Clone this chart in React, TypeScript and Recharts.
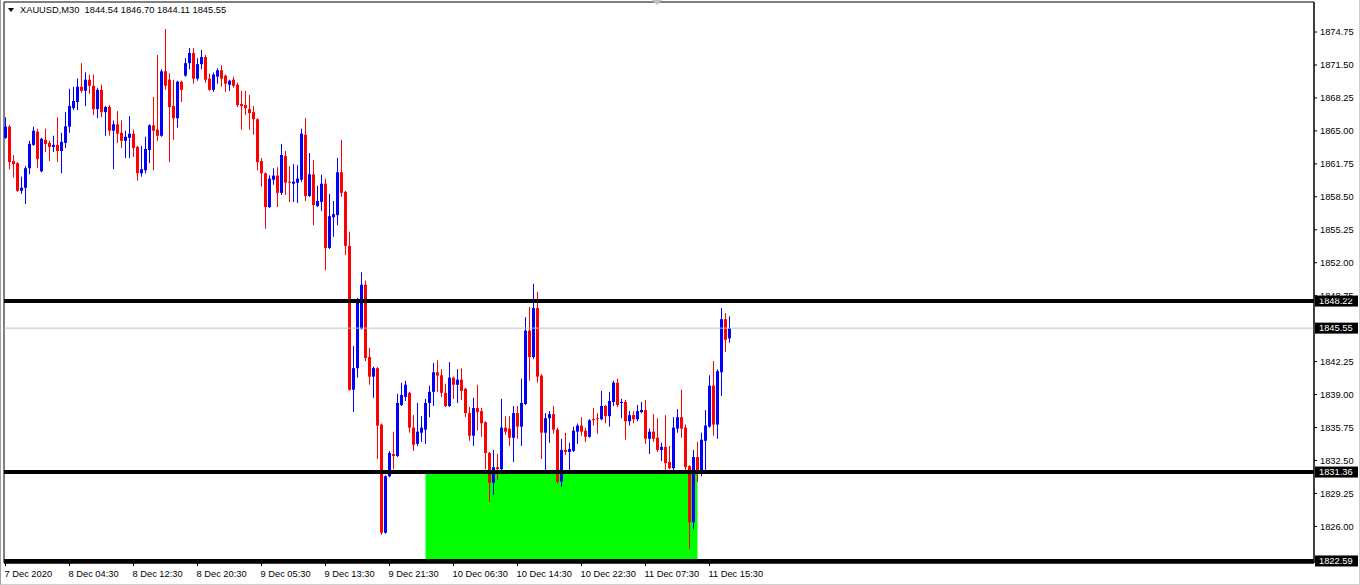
import React from "react";
import { ComposedChart, Bar, XAxis, YAxis, ReferenceLine, ReferenceArea } from "recharts";

// XAUUSD M30 candles (oldest first)
const opens = [
  1864.32, 1865.42, 1862.02, 1861.82, 1859.09, 1859.39, 1861.32, 1863.62, 1864.92, 1861.02,
  1864.12, 1863.82, 1863.42, 1863.62, 1863.02, 1863.82, 1865.42, 1867.25, 1867.85, 1869.35,
  1868.95, 1870.05, 1869.45, 1867.15, 1869.05, 1866.85, 1867.35, 1865.02, 1865.65, 1864.82,
  1864.02, 1864.32, 1864.72, 1863.42, 1860.82, 1861.12, 1863.12, 1865.55, 1865.12, 1864.52,
  1870.88, 1870.05, 1867.45, 1866.25, 1869.85, 1870.45, 1871.68, 1872.68, 1870.15, 1871.58,
  1872.28, 1870.15, 1869.05, 1870.35, 1870.98, 1870.45, 1869.55, 1870.05, 1869.55, 1867.65,
  1867.55, 1867.15, 1866.85, 1866.15, 1862.02, 1860.82, 1857.49, 1860.19, 1860.59, 1858.89,
  1862.52, 1859.99, 1859.79, 1859.89, 1860.19, 1864.62, 1858.59, 1860.72, 1857.59, 1857.99,
  1859.79, 1853.46, 1856.49, 1856.69, 1860.92, 1858.99, 1853.66, 1839.47, 1841.6, 1845.5,
  1849.83, 1842.7, 1840.77, 1841.6, 1836.04, 1825.38, 1830.94, 1833.14, 1832.94, 1837.97,
  1838.77, 1839.17, 1835.74, 1834.14, 1835.24, 1835.54, 1838.17, 1839.27, 1841.2, 1840.9,
  1839.17, 1837.87, 1840.67, 1839.97, 1840.47, 1839.57, 1837.17, 1834.94, 1837.67, 1837.37,
  1836.27, 1833.24, 1830.31, 1831.84, 1831.64, 1835.74, 1835.64, 1834.74, 1837.17, 1835.84,
  1838.07, 1845.3, 1842.7, 1847.53, 1840.87, 1835.24, 1836.67, 1837.07, 1835.54, 1830.41,
  1833.54, 1833.34, 1833.44, 1835.34, 1835.94, 1835.44, 1834.84, 1836.57, 1836.67, 1836.57,
  1837.87, 1836.87, 1838.27, 1840.17, 1838.17, 1838.27, 1836.37, 1836.97, 1836.57, 1837.27,
  1837.47, 1834.64, 1835.34, 1834.74, 1833.54, 1833.84, 1832.34, 1831.74, 1835.64, 1836.77,
  1835.74, 1831.94, 1826.41, 1832.84, 1831.34, 1834.44, 1835.84, 1839.87, 1836.04, 1841.2,
  1846.43, 1844.54,
];
const highs = [
  1866.35, 1865.6, 1862.62, 1861.92, 1860.49, 1861.52, 1864.02, 1865.42, 1865.22, 1864.32,
  1865.22, 1864.02, 1864.52, 1866.35, 1864.82, 1866.85, 1869.15, 1869.35, 1870.18, 1871.68,
  1870.78, 1870.55, 1870.55, 1869.25, 1869.55, 1867.45, 1867.55, 1866.02, 1866.95, 1866.05,
  1865.02, 1866.45, 1865.12, 1863.52, 1863.52, 1864.42, 1865.65, 1868.35, 1872.48, 1871.08,
  1875.05, 1870.68, 1870.05, 1869.95, 1869.95, 1872.18, 1873.18, 1873.18, 1872.18, 1872.98,
  1872.48, 1870.65, 1870.75, 1871.18, 1871.48, 1870.55, 1870.05, 1870.35, 1869.75, 1868.95,
  1868.95, 1868.55, 1867.45, 1866.25, 1862.32, 1860.92, 1860.62, 1861.32, 1861.42, 1863.72,
  1863.02, 1861.52, 1861.72, 1861.62, 1865.22, 1866.25, 1862.82, 1862.12, 1859.59, 1860.69,
  1860.29, 1858.79, 1858.09, 1862.32, 1864.12, 1859.09, 1855.06, 1843.8, 1848.53, 1851.06,
  1850.23, 1843.6, 1841.75, 1841.7, 1836.14, 1831.04, 1833.44, 1835.34, 1839.07, 1840.17,
  1840.37, 1839.27, 1836.97, 1838.17, 1836.87, 1838.57, 1839.87, 1842.1, 1842.4, 1841.5,
  1840.07, 1842.2, 1840.77, 1841.5, 1841.6, 1839.67, 1837.77, 1838.67, 1839.97, 1837.67,
  1836.37, 1833.34, 1833.54, 1833.14, 1838.57, 1836.87, 1836.87, 1837.87, 1837.87, 1840.57,
  1846.63, 1847.63, 1849.93, 1849.13, 1841.0, 1837.17, 1837.37, 1837.87, 1835.74, 1834.64,
  1835.24, 1834.24, 1835.84, 1836.14, 1836.77, 1835.74, 1836.57, 1837.67, 1837.17, 1839.37,
  1837.97, 1839.27, 1840.37, 1840.57, 1838.57, 1838.47, 1837.37, 1837.37, 1837.97, 1838.27,
  1838.47, 1835.64, 1837.07, 1836.67, 1834.24, 1836.97, 1833.94, 1836.77, 1837.57, 1839.47,
  1836.04, 1832.04, 1833.54, 1834.34, 1835.24, 1837.47, 1840.9, 1842.3, 1841.5, 1847.53,
  1847.03, 1846.7,
];
const lows = [
  1864.22, 1861.22, 1860.39, 1858.99, 1858.79, 1857.79, 1860.72, 1863.52, 1861.32, 1860.92,
  1862.92, 1862.02, 1862.92, 1861.92, 1860.82, 1863.32, 1864.82, 1867.05, 1867.05, 1868.75,
  1867.45, 1868.65, 1866.55, 1866.25, 1866.35, 1864.52, 1864.52, 1861.22, 1863.82, 1863.32,
  1862.32, 1862.32, 1862.42, 1860.09, 1860.49, 1860.82, 1861.82, 1861.12, 1864.02, 1864.42,
  1869.05, 1861.92, 1864.12, 1865.32, 1867.85, 1870.35, 1871.08, 1869.65, 1869.95, 1871.08,
  1869.75, 1868.95, 1868.85, 1869.65, 1869.35, 1868.85, 1868.95, 1869.25, 1867.35, 1865.12,
  1866.55, 1865.12, 1864.62, 1861.12, 1859.49, 1855.36, 1857.39, 1859.69, 1857.49, 1858.69,
  1858.69, 1857.99, 1857.99, 1857.89, 1859.99, 1858.09, 1858.49, 1855.69, 1857.49, 1857.09,
  1851.26, 1853.36, 1854.56, 1855.69, 1858.49, 1852.76, 1839.37, 1837.27, 1840.67, 1845.4,
  1842.3, 1839.97, 1838.67, 1832.64, 1825.18, 1825.28, 1830.84, 1831.64, 1832.84, 1837.87,
  1838.37, 1835.24, 1833.44, 1833.94, 1834.34, 1834.14, 1836.77, 1837.87, 1839.27, 1838.77,
  1837.77, 1837.77, 1838.57, 1838.17, 1838.47, 1836.77, 1834.44, 1833.94, 1835.44, 1834.84,
  1831.64, 1828.41, 1829.11, 1830.61, 1831.54, 1835.04, 1833.94, 1832.34, 1834.64, 1833.94,
  1837.97, 1840.37, 1842.5, 1840.17, 1832.64, 1831.44, 1834.24, 1835.14, 1830.21, 1829.91,
  1833.04, 1831.54, 1833.34, 1834.14, 1834.94, 1834.34, 1834.74, 1835.94, 1835.14, 1836.47,
  1836.17, 1835.84, 1837.87, 1837.77, 1836.67, 1834.54, 1835.94, 1836.17, 1836.37, 1837.17,
  1834.14, 1833.14, 1834.34, 1833.34, 1832.44, 1831.34, 1831.64, 1831.34, 1835.24, 1834.74,
  1831.34, 1823.78, 1825.71, 1830.41, 1830.94, 1831.24, 1835.74, 1834.94, 1834.64, 1838.87,
  1843.2, 1844.11,
];
const closes = [
  1865.42, 1861.92, 1861.72, 1859.09, 1859.39, 1861.32, 1863.72, 1865.02, 1862.22, 1864.22,
  1863.72, 1863.42, 1863.62, 1863.02, 1863.92, 1865.45, 1867.45, 1867.95, 1869.35, 1868.95,
  1870.05, 1869.45, 1867.15, 1869.05, 1866.85, 1867.35, 1865.02, 1865.65, 1864.72, 1864.02,
  1864.42, 1864.72, 1863.32, 1860.82, 1861.22, 1863.22, 1865.55, 1865.02, 1864.52, 1870.88,
  1869.45, 1867.35, 1866.25, 1869.85, 1869.05, 1871.68, 1872.68, 1870.15, 1871.58, 1872.28,
  1870.05, 1869.05, 1870.55, 1870.98, 1870.15, 1869.65, 1869.95, 1869.45, 1867.55, 1867.45,
  1867.25, 1866.75, 1866.15, 1861.92, 1860.82, 1857.49, 1860.29, 1860.59, 1858.89, 1862.62,
  1859.89, 1859.89, 1859.99, 1860.29, 1864.72, 1858.59, 1860.72, 1857.69, 1858.09, 1859.79,
  1853.46, 1856.59, 1856.79, 1860.92, 1858.89, 1853.66, 1839.47, 1841.6, 1848.03, 1849.83,
  1842.6, 1840.77, 1841.6, 1835.94, 1825.38, 1830.94, 1833.24, 1832.94, 1838.17, 1838.97,
  1839.97, 1835.74, 1834.04, 1835.34, 1835.74, 1838.17, 1839.27, 1841.2, 1840.87, 1839.17,
  1837.87, 1840.67, 1839.97, 1840.47, 1839.37, 1837.17, 1834.94, 1837.67, 1837.27, 1836.17,
  1833.24, 1830.31, 1831.84, 1831.64, 1835.74, 1835.34, 1834.74, 1837.17, 1835.84, 1838.17,
  1845.3, 1842.7, 1847.53, 1840.77, 1835.24, 1836.67, 1837.07, 1835.54, 1830.41, 1833.54,
  1833.34, 1833.64, 1835.44, 1835.94, 1835.34, 1834.84, 1836.47, 1836.47, 1836.57, 1837.87,
  1836.87, 1838.37, 1840.17, 1837.97, 1838.27, 1836.37, 1836.97, 1836.57, 1837.37, 1837.47,
  1834.64, 1835.34, 1834.64, 1833.54, 1833.84, 1832.24, 1831.74, 1835.74, 1836.77, 1835.64,
  1831.84, 1826.41, 1832.84, 1831.34, 1834.54, 1835.94, 1839.87, 1836.04, 1841.3, 1846.43,
  1844.4, 1845.55,
];

const timeLabels = [
  "7 Dec 2020", "8 Dec 04:30", "8 Dec 12:30", "8 Dec 20:30", "9 Dec 05:30", "9 Dec 13:30",
  "9 Dec 21:30", "10 Dec 06:30", "10 Dec 14:30", "10 Dec 22:30", "11 Dec 07:30", "11 Dec 15:30",
];
const timeTickBars = [0, 16, 32, 48, 64, 80, 96, 112, 128, 144, 160, 176];
const priceTicks = [
  1826.0, 1829.25, 1832.5, 1835.75, 1839.0, 1842.25, 1848.75, 1852.0, 1855.25, 1858.5,
  1861.75, 1865.0, 1868.25, 1871.5, 1874.75,
];

const resistance = 1848.22;
const support = 1831.36;
const floorLevel = 1822.59;
const bid = 1845.55;
const zoneFrom = 105;
const zoneTo = 173;

const xDomain = [-0.375, 327.125];
const yDomain = [1822.39, 1877.71];
const FONT = "'Liberation Sans', Arial, sans-serif";

const data = opens.map((o, i) => ({
  i,
  open: o,
  high: highs[i],
  low: lows[i],
  close: closes[i],
  range: [lows[i], highs[i]],
}));

function Candle(props: any) {
  const { x, y, width, height, payload } = props;
  if (x == null || y == null) return null;
  const { open, close, high, low } = payload;
  const top = Math.min(y, y + height);
  const h = Math.abs(height);
  const cx = Math.floor(x + width / 2) + 0.5;
  const k = high > low ? h / (high - low) : 0;
  const py = (p: number) => top + (high - p) * k;
  const color = close >= open ? "#0000ff" : "#ff0000";
  const bTop = py(Math.max(open, close));
  const bBot = py(Math.min(open, close));
  return (
    <g>
      <rect x={cx - 0.5} y={top} width={1} height={Math.max(h, 1)} fill={color} />
      <rect x={cx - 1.5} y={bTop} width={3} height={Math.max(bBot - bTop, 1)} fill={color} />
    </g>
  );
}

function PriceTag(props: any) {
  const vb = props.viewBox;
  if (!vb) return null;
  const left = vb.x + vb.width + 1;
  return (
    <g>
      <rect x={left} y={vb.y - 5.5} width={43} height={11} fill="#000" />
      <text x={left + 4} y={vb.y + 3.3} fill="#fff" fontSize={9.3} fontFamily={FONT}>
        {props.text}
      </text>
    </g>
  );
}

function TimeTick(props: any) {
  const { x, y, payload } = props;
  const idx = timeTickBars.indexOf(payload.value);
  return (
    <text x={x - 1} y={y + 8.5} fontSize={9.3} fontFamily={FONT} fill="#000" textAnchor="start">
      {timeLabels[idx]}
    </text>
  );
}

export default function App() {
  return (
    <div style={{ position: "absolute", left: 0, top: 0, width: 1360, height: 585, background: "#fff", overflow: "hidden" }}>
      <ComposedChart width={1360} height={585} data={data} margin={{ top: 2, right: 0, left: 4, bottom: 0 }}>
        <ReferenceArea x1={zoneFrom} x2={zoneTo} y1={floorLevel} y2={support} fill="#00ff00" fillOpacity={1} stroke="none" />
        <ReferenceLine y={bid} stroke="#c0c0c0" strokeWidth={1} label={<PriceTag text={bid.toFixed(2)} />} />
        <XAxis
          type="number"
          dataKey="i"
          domain={xDomain}
          allowDataOverflow
          ticks={timeTickBars}
          interval={0}
          height={22}
          tickSize={3}
          tickMargin={2}
          tick={<TimeTick />}
          axisLine={{ stroke: "#000" }}
          tickLine={{ stroke: "#000" }}
        />
        <YAxis
          type="number"
          orientation="right"
          domain={yDomain}
          allowDataOverflow
          ticks={priceTicks}
          interval={0}
          width={46}
          tickSize={3}
          tickMargin={3}
          tickFormatter={(v: number) => v.toFixed(2)}
          tick={{ fontSize: 9.3, fontFamily: FONT, fill: "#000" }}
          axisLine={{ stroke: "#000" }}
          tickLine={{ stroke: "#000" }}
        />
        <Bar dataKey="range" barSize={3} shape={<Candle />} isAnimationActive={false} />
        <ReferenceLine y={resistance} stroke="#000" strokeWidth={4} label={<PriceTag text={resistance.toFixed(2)} />} />
        <ReferenceLine y={support} stroke="#000" strokeWidth={4} label={<PriceTag text={support.toFixed(2)} />} />
        <ReferenceLine y={floorLevel} stroke="#000" strokeWidth={4} label={<PriceTag text={floorLevel.toFixed(2)} />} />
        <ReferenceArea x1={xDomain[0]} x2={xDomain[1]} y1={yDomain[0]} y2={yDomain[1]} fill="none" stroke="#000" ifOverflow="visible" />
      </ComposedChart>
      <div style={{ position: "absolute", left: 8, top: 8, width: 0, height: 0, borderLeft: "3px solid transparent", borderRight: "3px solid transparent", borderTop: "4px solid #000" }} />
      <div style={{ position: "absolute", left: 20, top: 4, fontFamily: FONT, fontSize: 9.3, color: "#000", whiteSpace: "pre", lineHeight: "12px" }}>
        {"XAUUSD,M30  1844.54 1846.70 1844.11 1845.55"}
      </div>
      <div style={{ position: "absolute", left: 652, top: 0, width: 0, height: 0, borderLeft: "5px solid transparent", borderRight: "5px solid transparent", borderTop: "5px solid #c0c0c0" }} />
      <div style={{ position: "absolute", left: 0, top: 0, width: 1360, height: 585, boxSizing: "border-box", borderLeft: "1px solid #a0a0a0", borderRight: "1px solid #d0d0d0", borderBottom: "1px solid #d0d0d0", pointerEvents: "none" }} />
    </div>
  );
}
